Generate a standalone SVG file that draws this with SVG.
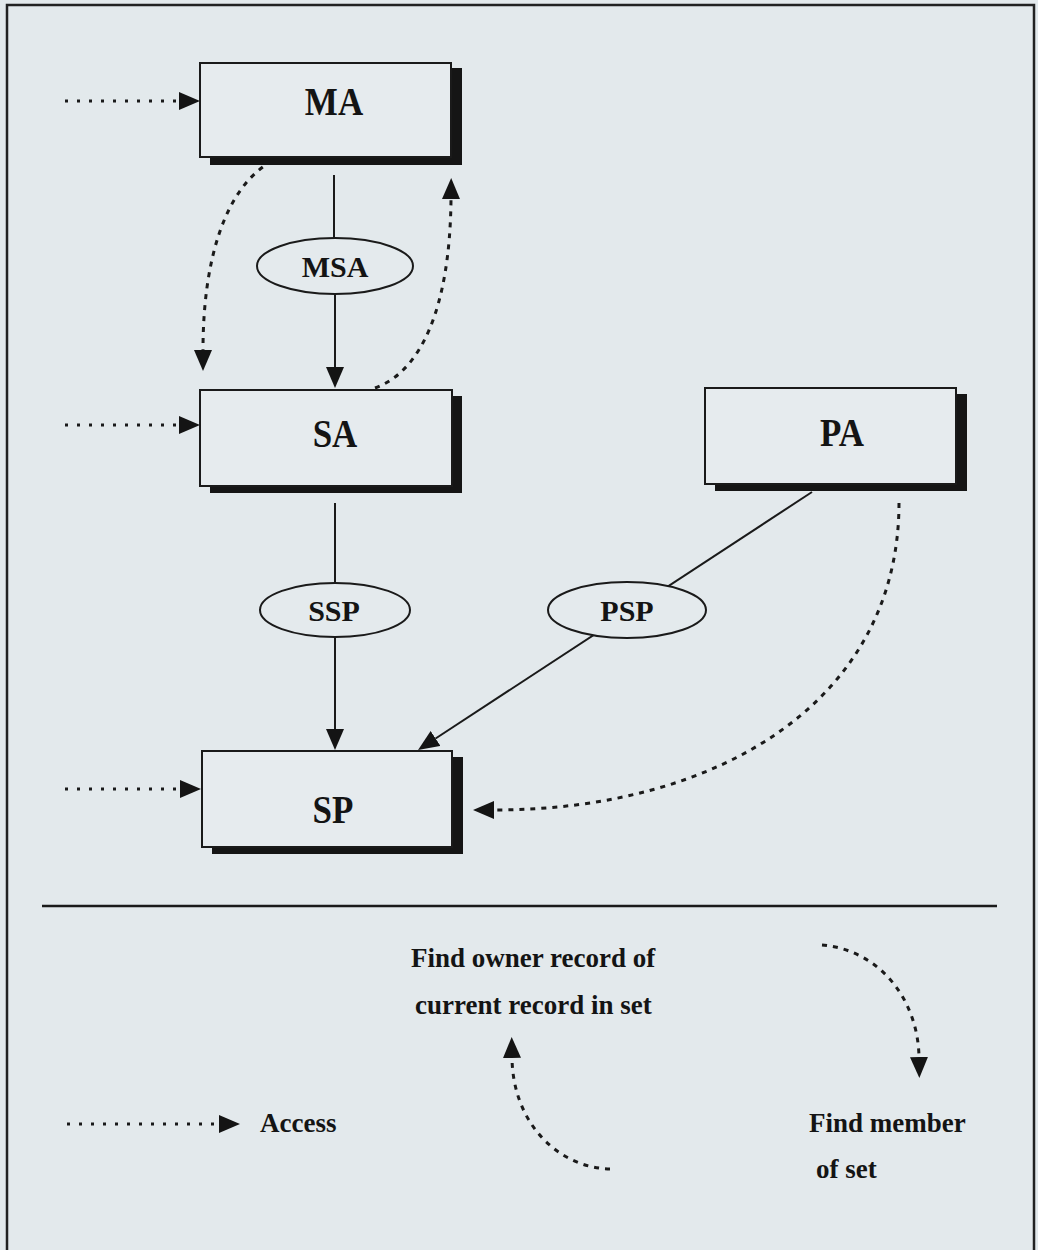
<svg xmlns="http://www.w3.org/2000/svg" width="1038" height="1250" viewBox="0 0 1038 1250">
<defs>
<style>
.bg{fill:#e3e9ec}
.frame{fill:none;stroke:#222;stroke-width:2.5}
.box{fill:#e6ebee;stroke:#1a1a1a;stroke-width:2}
.shadow{fill:#151515}
.ell{fill:#e4eaed;stroke:#1a1a1a;stroke-width:2}
.solid{fill:none;stroke:#1a1a1a;stroke-width:2}
.dot{fill:none;stroke:#1a1a1a;stroke-width:3;stroke-dasharray:3 9}
.dash{fill:none;stroke:#1a1a1a;stroke-width:3;stroke-dasharray:5 6}
.lbl{font-family:"Liberation Serif","Times New Roman",serif;font-weight:bold;font-size:35px;fill:#141414;text-anchor:middle}
.elbl{font-family:"Liberation Serif","Times New Roman",serif;font-weight:bold;font-size:30px;fill:#141414;text-anchor:middle}
.leg{font-family:"Liberation Serif","Times New Roman",serif;font-weight:bold;font-size:27px;fill:#141414}
</style>
<marker id="ah" viewBox="0 0 21 18" refX="0" refY="9" markerWidth="21" markerHeight="18" markerUnits="userSpaceOnUse" orient="auto">
<path d="M0,0 L21,9 L0,18 z" fill="#141414"/>
</marker>
</defs>
<rect class="bg" x="0" y="0" width="1038" height="1250"/>
<rect class="frame" x="7" y="5" width="1027" height="1270"/>

<g id="connectors">
<line class="dot" x1="65" y1="101" x2="179" y2="101" marker-end="url(#ah)"/>
<line class="dot" x1="65" y1="425" x2="179" y2="425" marker-end="url(#ah)"/>
<line class="dot" x1="65" y1="789" x2="180" y2="789" marker-end="url(#ah)"/>
<line class="solid" x1="334" y1="175" x2="334" y2="240"/>
<line class="solid" x1="335" y1="292" x2="335" y2="367" marker-end="url(#ah)"/>
<line class="solid" x1="335" y1="503" x2="335" y2="585"/>
<line class="solid" x1="335" y1="635" x2="335" y2="729" marker-end="url(#ah)"/>
<line class="solid" x1="812" y1="492" x2="435.6" y2="738.5" marker-end="url(#ah)"/>
<path class="dash" d="M272,161 C224,188 203,262 203,350" marker-end="url(#ah)"/>
<path class="dash" d="M375,388 C420,372 450,310 451,199" marker-end="url(#ah)"/>
<path class="dash" d="M899,503 C899,700 720,810 494,810" marker-end="url(#ah)"/>
</g>

<g id="node-MA">
<rect class="shadow" x="210" y="68" width="252" height="97"/>
<rect class="box" x="200" y="63" width="251" height="94"/>
<text class="lbl" transform="translate(334,115) scale(1,1.15)">MA</text>
</g>
<g id="node-SA">
<rect class="shadow" x="210" y="396" width="252" height="97"/>
<rect class="box" x="200" y="390" width="252" height="96"/>
<text class="lbl" transform="translate(335,447) scale(1,1.15)">SA</text>
</g>
<g id="node-PA">
<rect class="shadow" x="715" y="394" width="252" height="97"/>
<rect class="box" x="705" y="388" width="251" height="96"/>
<text class="lbl" transform="translate(842,446) scale(1,1.15)">PA</text>
</g>
<g id="node-SP">
<rect class="shadow" x="212" y="757" width="251" height="97"/>
<rect class="box" x="202" y="751" width="250" height="96"/>
<text class="lbl" transform="translate(333,823) scale(1,1.15)">SP</text>
</g>
<g id="node-MSA">
<ellipse class="ell" cx="335" cy="266" rx="78" ry="28"/>
<text class="elbl" x="335" y="277">MSA</text>
</g>
<g id="node-SSP">
<ellipse class="ell" cx="335" cy="610" rx="75" ry="27"/>
<text class="elbl" x="334" y="621">SSP</text>
</g>
<g id="node-PSP">
<ellipse class="ell" cx="627" cy="610" rx="79" ry="28"/>
<text class="elbl" x="627" y="621">PSP</text>
</g>

<line x1="42" y1="906" x2="997" y2="906" stroke="#1a1a1a" stroke-width="2.5"/>

<g id="legend">
<line class="dot" x1="67" y1="1124" x2="219" y2="1124" marker-end="url(#ah)"/>
<text class="leg" x="260" y="1132" font-size="26">Access</text>
<text class="leg" x="411" y="967">Find owner record of</text>
<text class="leg" x="415" y="1014">current record in set</text>
<path class="dash" d="M610,1169 C560,1168 513,1125 512,1058" marker-end="url(#ah)"/>
<path class="dash" d="M822,945 C880,950 918,1000 919,1057" marker-end="url(#ah)"/>
<text class="leg" x="809" y="1132">Find member</text>
<text class="leg" x="816" y="1178">of set</text>
</g>
</svg>
